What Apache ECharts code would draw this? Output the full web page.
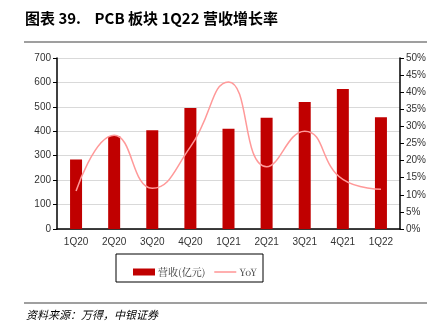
<!DOCTYPE html>
<html><head><meta charset="utf-8">
<script src="https://cdn.jsdelivr.net/npm/echarts@6/dist/echarts.min.js"></script>
<style>html,body{margin:0;padding:0;background:#fff}#c{width:442px;height:336px}</style>
</head><body><div id="c"></div>
<script>
const categories = ['1Q20','2Q20','3Q20','4Q20','1Q21','2Q21','3Q21','4Q21','1Q22'];
const revenue = [285, 381, 404, 495, 410, 455, 520, 573, 457];
const yoy = [11.1, 27.4, 11.9, 24.0, 43.0, 18.2, 28.6, 14.5, 11.6];
const leftTicks = [0, 700, 100];
const rightTicks = [0, 50, 5];
const titleText = '图表 39.    PCB 板块 1Q22 营收增长率';
const sourceText = '资料来源：万得，中银证券';

const chart = echarts.init(document.getElementById('c'), null, {renderer:'canvas'});
const axisFont = {fontFamily:'Liberation Sans, Arial', fontSize:10, color:'#333'};
chart.setOption({
  animation:false,
  grid:{left:57, right:42, top:58, bottom:107},
  graphic:[
    {type:'text', left:25, top:11, style:{text:titleText, font:'bold 15px "Noto Sans CJK SC", "Liberation Sans"', fill:'#000'}},
    {type:'line', shape:{x1:24,y1:42,x2:427,y2:42}, style:{stroke:'#7f7f7f', lineWidth:1.5}},
    {type:'line', shape:{x1:24,y1:303,x2:427,y2:303}, style:{stroke:'#7f7f7f', lineWidth:1.5}},
    {type:'text', left:26, top:309, style:{text:sourceText, font:'italic 11px "Noto Sans CJK SC"', fill:'#000'}},
    {type:'rect', shape:{x:116,y:254,width:147,height:28}, style:{fill:'none', stroke:'#000', lineWidth:1}}
  ],
  legend:{
    top:262, left:128, itemGap:9, itemWidth:22, itemHeight:7,
    textStyle:{fontFamily:'"Noto Serif CJK SC", "Noto Sans CJK SC", serif', fontSize:10, color:'#333', padding:[0,0,0,-2]},
    data:[{name:'营收(亿元)', icon:'rect'}, {name:'YoY', icon:'path://M0,0H14V1H0Z'}]
  },
  xAxis:{
    type:'category', data:categories,
    axisLine:{lineStyle:{color:'#000', width:1.5}},
    axisTick:{show:false},
    axisLabel:{...axisFont, margin:8}
  },
  yAxis:[
    {type:'value', min:leftTicks[0], max:leftTicks[1], interval:leftTicks[2],
     axisLine:{show:true, lineStyle:{color:'#000', width:1.5}},
     axisTick:{show:true, length:4, lineStyle:{color:'#000'}},
     axisLabel:{...axisFont, margin:6},
     splitLine:{lineStyle:{color:'#d9d9d9', width:1}}},
    {type:'value', min:rightTicks[0], max:rightTicks[1], interval:rightTicks[2], position:'right',
     axisLine:{show:true, lineStyle:{color:'#000', width:1.5}},
     axisTick:{show:true, length:4, lineStyle:{color:'#000'}},
     axisLabel:{...axisFont, margin:6, formatter:'{value}%'},
     splitLine:{show:false}}
  ],
  series:[
    {name:'营收(亿元)', type:'bar', data:revenue, barWidth:12, itemStyle:{color:'#C00000'}},
    {name:'YoY', type:'line', yAxisIndex:1, data:yoy, smooth:0.5, symbol:'none',
     lineStyle:{color:'#FF9999', width:1.5}, itemStyle:{color:'#FF9999'}}
  ]
});
</script></body></html>
